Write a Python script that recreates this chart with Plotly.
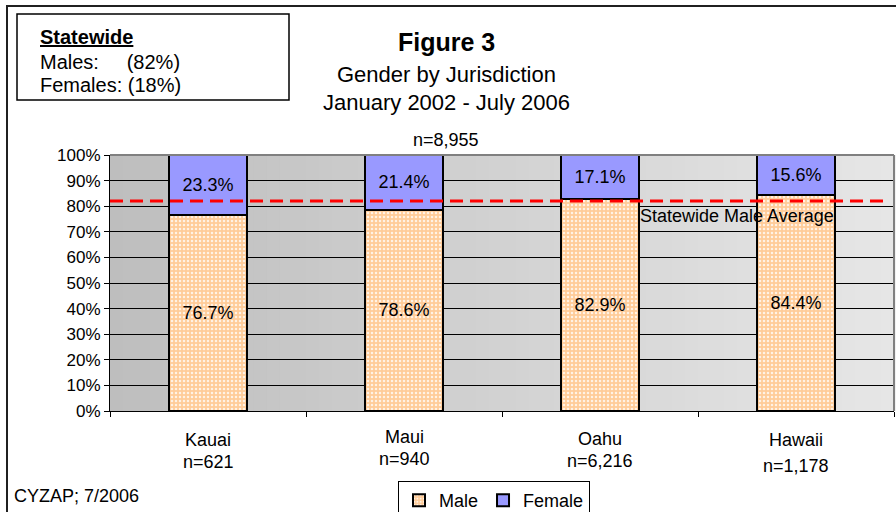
import plotly.graph_objects as go

# ---- data ----
jurisdictions = ["Kauai", "Maui", "Oahu", "Hawaii"]
jurisdiction_n = ["n=621", "n=940", "n=6,216", "n=1,178"]
male_pct = [76.7, 78.6, 82.9, 84.4]
female_pct = [23.3, 21.4, 17.1, 15.6]
statewide_male = 82
statewide_female = 18
total_n = "n=8,955"
y_ticks = [0, 10, 20, 30, 40, 50, 60, 70, 80, 90, 100]
y_tick_labels = [f"{v}%" for v in y_ticks]

# ---- geometry helpers (pixel -> paper) ----
W, H = 896, 512
L, R, T, B = 110, 894, 155, 411


def px(x):
    return (x - L) / (R - L)


def py(y):
    return (B - y) / (B - T)


FONT = "Liberation Sans, Arial, sans-serif"

fig = go.Figure()

fig.add_trace(go.Bar(
    x=jurisdictions, y=male_pct, name="Male", width=0.4,
    marker=dict(color="#FFCC99", line=dict(color="black", width=2),
                pattern=dict(shape=".", fgcolor="#FFF3E6", bgcolor="#FFCC99",
                             size=4, solidity=0.3, fillmode="replace")),
    texttemplate="%{y:.1f}%", textposition="inside", insidetextanchor="middle",
    textangle=0, constraintext="none",
    textfont=dict(size=18, color="black", family=FONT),
))
fig.add_trace(go.Bar(
    x=jurisdictions, y=female_pct, name="Female", width=0.4,
    marker=dict(color="#9999FF", line=dict(color="black", width=2)),
    texttemplate="%{y:.1f}%", textposition="inside", insidetextanchor="middle",
    textangle=0, constraintext="none",
    textfont=dict(size=18, color="black", family=FONT),
))

shapes = []
# gradient background of plot area
n_strips = 60
c0, c1 = 190, 230
for i in range(n_strips):
    c = round(c0 + (c1 - c0) * i / (n_strips - 1))
    shapes.append(dict(type="rect", xref="paper", yref="paper",
                       x0=i / n_strips, x1=(i + 1) / n_strips + 0.002, y0=0, y1=1,
                       fillcolor=f"rgb({c},{c},{c})", line=dict(width=0), layer="below"))
# plot area top/right border
shapes.append(dict(type="line", xref="paper", yref="paper", x0=0, x1=1, y0=1, y1=1,
                   line=dict(color="#808080", width=2)))
shapes.append(dict(type="line", xref="paper", yref="paper", x0=1, x1=1, y0=0, y1=1,
                   line=dict(color="#808080", width=2)))
# statewide male average line
shapes.append(dict(type="line", xref="paper", yref="y", x0=0, x1=px(887),
                   y0=statewide_male, y1=statewide_male,
                   line=dict(color="#FF0000", width=3, dash="13px,7px")))
# outer frame
shapes.append(dict(type="rect", xref="paper", yref="paper",
                   x0=px(7), x1=px(905), y0=py(6), y1=py(520),
                   line=dict(color="#202020", width=2), fillcolor="rgba(0,0,0,0)"))
# statewide box
shapes.append(dict(type="rect", xref="paper", yref="paper",
                   x0=px(17), x1=px(289), y0=py(14), y1=py(100),
                   line=dict(color="black", width=1.5), fillcolor="white"))

annotations = []


def txt(text, x, y, size, xanchor="center", bold=False):
    annotations.append(dict(text=f"<b>{text}</b>" if bold else text,
                            xref="paper", yref="paper", x=px(x), y=py(y),
                            xanchor=xanchor, yanchor="middle", showarrow=False,
                            font=dict(size=size, color="black", family=FONT)))


txt("Figure 3", 446, 42, 25, bold=True)
txt("Gender by Jurisdiction", 446, 74, 22)
txt("January 2002 - July 2006", 446, 102, 22)
txt(total_n, 446, 140, 18)
txt("<u>Statewide</u>", 38, 37, 20, xanchor="left", bold=True)
txt(f"Males:&nbsp;&nbsp;&nbsp;&nbsp;&nbsp;({statewide_male}%)", 38, 62, 20, xanchor="left")
txt(f"Females: ({statewide_female}%)", 38, 85, 20, xanchor="left")
txt("Statewide Male Average", 737, 216, 18)
txt("CYZAP; 7/2006", 12, 496, 18, xanchor="left")

# category labels (per-category vertical placement)
name_y = [440, 437, 439, 440]
n_y = [462, 459, 461, 466]
for i, (nm, nn) in enumerate(zip(jurisdictions, jurisdiction_n)):
    cx = L + (i + 0.5) * (R - L) / len(jurisdictions)
    txt(nm, cx, name_y[i], 18)
    txt(nn, cx, n_y[i], 18)

fig.update_layout(
    width=W, height=H, barmode="stack",
    margin=dict(l=L, r=W - R, t=T, b=H - B, pad=0, autoexpand=False),
    paper_bgcolor="white", plot_bgcolor="rgba(0,0,0,0)",
    font=dict(family=FONT, size=13, color="black"),
    shapes=shapes, annotations=annotations,
    showlegend=True,
    legend=dict(orientation="h", x=px(398), xanchor="left", y=py(481), yanchor="top",
                bordercolor="black", borderwidth=1, bgcolor="white",
                font=dict(size=18, family=FONT), traceorder="normal",
                itemwidth=30, tracegroupgap=0),
    xaxis=dict(type="category", showticklabels=False, ticks="outside", ticklen=5,
               tickson="boundaries", tickcolor="black", showline=True, linecolor="black",
               linewidth=1, showgrid=False, range=[-0.5, 3.5], automargin=False),
    yaxis=dict(range=[0, 100], tickvals=y_ticks, ticktext=y_tick_labels, ticks="outside",
               ticklen=5, tickcolor="black", showline=True, linecolor="black", linewidth=1,
               showgrid=True, gridcolor="#000000", gridwidth=1, zeroline=False,
               tickfont=dict(size=17, family=FONT), automargin=False),
)

fig.write_html("out.html", config={"displayModeBar": False},
               post_script="document.body.style.margin='0';document.body.style.overflow='hidden';")
